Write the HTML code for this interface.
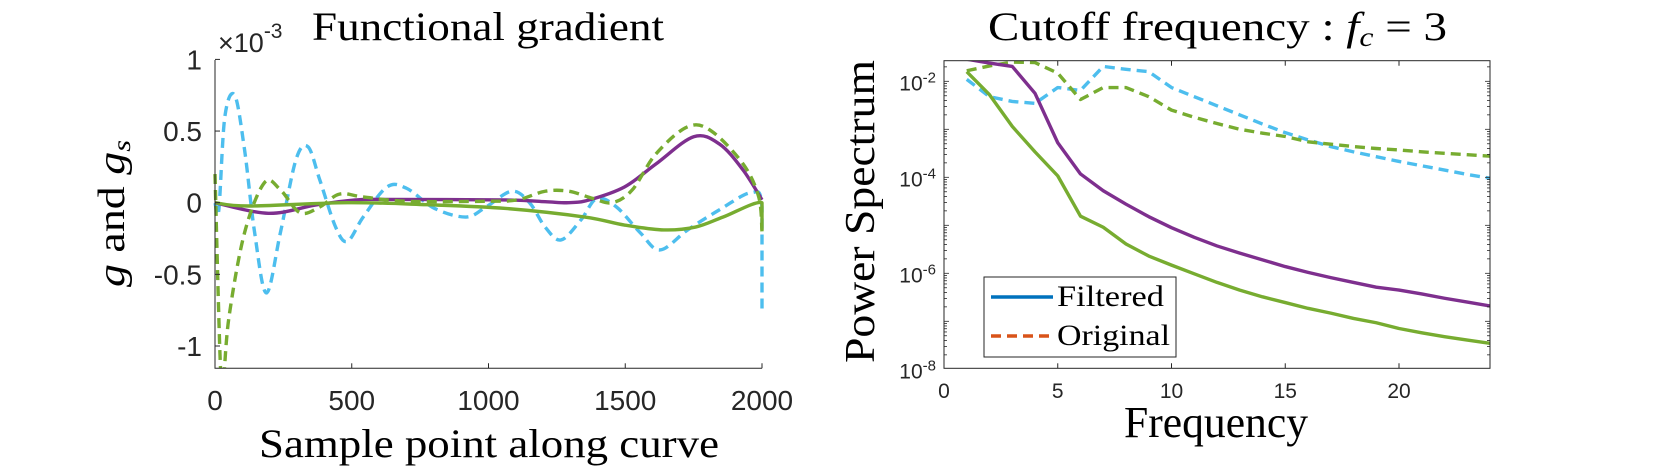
<!DOCTYPE html>
<html><head><meta charset="utf-8"><style>
html,body{margin:0;padding:0;background:#fff;}
svg{display:block;}
.tk{font-family:"Liberation Sans",sans-serif;fill:#262626;}
.sr{font-family:"Liberation Serif",serif;fill:#000;}
</style></head><body>
<svg id="fig" width="1654" height="472" viewBox="0 0 1654 472" xmlns="http://www.w3.org/2000/svg">
<g id="left"></g>
<g id="right"></g>
</svg>
<script>
// ---- Left chart data (values in units of 1e-3) ----
const gPurpleX = [0,195,369,513,629,1063,1207,1294,1367,1497,1612,1750,1844,1930,2000];
const gPurpleY = [0,-0.074,-0.016,0.019,0.023,0.019,0.007,0,0.019,0.11,0.27,0.46,0.41,0.23,0.02];
const gGreenX = [0,123,484,774,1063,1352,1497,1641,1757,1858,2000,2000];
const gGreenY = [0,-0.023,0,-0.014,-0.04,-0.1,-0.156,-0.19,-0.17,-0.1,0,-0.19];
const gsGreenX = [0,19,30,51,108,181,239,311,383,455,542,701,991,1106,1207,1294,1381,1453,1526,1612,1728,1815,1931,1988,2000];
const gsGreenY = [0.2,-1.1,-1.25,-0.8,-0.21,0.14,0.09,-0.07,-0.03,0.06,0.04,0.01,0.01,0.02,0.08,0.08,0.03,0,0.09,0.34,0.53,0.5,0.27,0.04,-0.2];
const gsCyanX = [0,14,36,72,108,145,188,239,296,340,383,441,484,542,629,701,803,918,991,1085,1150,1207,1265,1338,1396,1468,1555,1627,1728,1844,1960,2000,2000];
const gsCyanY = [0,-0.05,0.6,0.75,0.37,-0.21,-0.63,-0.21,0.3,0.39,0.16,-0.17,-0.27,-0.1,0.11,0.1,-0.04,-0.1,-0.03,0.08,0,-0.17,-0.26,-0.12,0.03,-0.03,-0.21,-0.33,-0.19,-0.05,0.07,-0.03,-0.77];
const leftXTicks = [0,500,1000,1500,2000];
const leftYTicks = [1,0.5,0,-0.5,-1];
const leftYTickLabels = ["1","0.5","0","-0.5","-1"];

// ---- Right chart data (log10 of power) ----
const freq = [1,2,3,4,5,6,7,8,9,10,11,12,13,14,15,16,17,18,19,20,21,22,23,24];
const filtPurple = [-1.54,-1.62,-1.69,-2.25,-3.28,-3.93,-4.28,-4.56,-4.82,-5.05,-5.25,-5.43,-5.58,-5.72,-5.86,-5.98,-6.09,-6.19,-6.29,-6.35,-6.43,-6.52,-6.60,-6.68];
const filtGreen = [-1.80,-2.28,-2.94,-3.47,-3.97,-4.81,-5.04,-5.39,-5.64,-5.83,-6.01,-6.19,-6.35,-6.49,-6.61,-6.73,-6.83,-6.94,-7.03,-7.15,-7.24,-7.32,-7.39,-7.46];
const origGreen = [-1.78,-1.68,-1.60,-1.61,-1.83,-2.38,-2.13,-2.13,-2.32,-2.60,-2.75,-2.88,-3.00,-3.08,-3.15,-3.26,-3.31,-3.36,-3.40,-3.43,-3.47,-3.50,-3.53,-3.56];
const origCyan = [-1.96,-2.32,-2.42,-2.46,-2.13,-2.19,-1.69,-1.75,-1.80,-2.13,-2.32,-2.51,-2.70,-2.89,-3.07,-3.22,-3.36,-3.47,-3.57,-3.67,-3.76,-3.85,-3.94,-4.02];
const rightXTicks = [0,5,10,15,20];
const rightYTicks = [-2,-4,-6,-8];

const NS="http://www.w3.org/2000/svg";
function mk(parent,tag,attrs,text){const e=document.createElementNS(NS,tag);for(const k in attrs)e.setAttribute(k,attrs[k]);if(text!==undefined)e.textContent=text;parent.appendChild(e);return e;}
function smoothPath(pts){
  if(pts.length<2)return "";
  let d="M"+pts[0][0].toFixed(2)+","+pts[0][1].toFixed(2);
  for(let i=0;i<pts.length-1;i++){
    const p0=pts[Math.max(0,i-1)],p1=pts[i],p2=pts[i+1],p3=pts[Math.min(pts.length-1,i+2)];
    if(p1[0]===p2[0]){d+=" L"+p2[0].toFixed(2)+","+p2[1].toFixed(2);continue;}
    const t=1/6;
    const c1=[p1[0]+(p2[0]-p0[0])*t,p1[1]+(p2[1]-p0[1])*t];
    const c2=[p2[0]-(p3[0]-p1[0])*t,p2[1]-(p3[1]-p1[1])*t];
    d+=" C"+c1[0].toFixed(2)+","+c1[1].toFixed(2)+" "+c2[0].toFixed(2)+","+c2[1].toFixed(2)+" "+p2[0].toFixed(2)+","+p2[1].toFixed(2);
  }
  return d;
}
const AX="#262626";
const PURPLE="#7E2F8E",GREEN="#77AC30",CYAN="#4DBEEE";

// ===== Left chart =====
(function(){
  const L=document.getElementById('left');
  const x0=215,x1=762,yTop=60,yBot=368.3;
  const sx=v=>x0+(v/2000)*(x1-x0);
  const sy=v=>202.7-v*143.3;
  const defs=mk(L,'defs',{});
  const cp=mk(defs,'clipPath',{id:'clipL'});
  mk(cp,'rect',{x:x0-4,y:yTop,width:x1-x0+8,height:yBot-yTop});
  const plot=mk(L,'g',{'clip-path':'url(#clipL)'});
  function series(xs,ys,color,dash,name){
    const pts=xs.map((x,i)=>[sx(x),sy(ys[i])]);
    const p=mk(plot,'path',{d:smoothPath(pts),fill:'none',stroke:color,'stroke-width':3.4,'stroke-dasharray':dash?'10,6':'none','stroke-linejoin':'round'});
    
    
  }
  series(gsCyanX,gsCyanY,CYAN,true,'gs-cyan-line');
  series(gPurpleX,gPurpleY,PURPLE,false,'g-purple-line');
  series(gGreenX,gGreenY,GREEN,false,'g-green-line');
  series(gsGreenX,gsGreenY,GREEN,true,'gs-green-line');
  const ax=mk(L,'path',{d:`M${x0},${yTop} L${x0},${yBot} L${x1},${yBot}`,fill:'none',stroke:AX,'stroke-width':1});
  
  
  leftXTicks.forEach(v=>{
    const x=sx(v);
    mk(L,'line',{x1:x,y1:yBot,x2:x,y2:yBot-5,stroke:AX,'stroke-width':1});
    const t=mk(L,'text',{x:x,y:410,'text-anchor':'middle','font-size':28,class:'tk'},String(v));
    
    
  });
  leftYTicks.forEach((v,i)=>{
    const y=sy(v);
    mk(L,'line',{x1:x0,y1:y,x2:x0+5,y2:y,stroke:AX,'stroke-width':1});
    const t=mk(L,'text',{x:x0-13,y:y+10,'text-anchor':'end','font-size':28,class:'tk'},leftYTickLabels[i]);
    
    
  });
})();

// ===== Right chart =====
(function(){
  const R=document.getElementById('right');
  const x0=944,x1=1490,yTop=60.7,yBot=368.3;
  const sx=v=>x0+v*22.75;
  const sy=l=>81.3-(l+2)*48;
  const defs=mk(R,'defs',{});
  const cp=mk(defs,'clipPath',{id:'clipR'});
  mk(cp,'rect',{x:x0,y:yTop,width:x1-x0,height:yBot-yTop});
  const plot=mk(R,'g',{'clip-path':'url(#clipR)'});
  function series(ys,color,dash,name){
    const pts=freq.map((f,i)=>[sx(f),sy(ys[i])]);
    const d="M"+pts.map(p=>p[0].toFixed(2)+","+p[1].toFixed(2)).join(" L");
    const p=mk(plot,'path',{d:d,fill:'none',stroke:color,'stroke-width':3.4,'stroke-dasharray':dash?'10,6':'none','stroke-linejoin':'round'});
    
    
  }
  series(origCyan,CYAN,true,'original-cyan-line');
  series(origGreen,GREEN,true,'original-green-line');
  series(filtPurple,PURPLE,false,'filtered-purple-line');
  series(filtGreen,GREEN,false,'filtered-green-line');
  const box=mk(R,'rect',{x:x0,y:yTop,width:x1-x0,height:yBot-yTop,fill:'none',stroke:AX,'stroke-width':1});
  
  
  rightXTicks.forEach(v=>{
    const x=sx(v);
    mk(R,'line',{x1:x,y1:yBot,x2:x,y2:yBot-5,stroke:AX,'stroke-width':1});
    mk(R,'line',{x1:x,y1:yTop,x2:x,y2:yTop+5,stroke:AX,'stroke-width':1});
    const t=mk(R,'text',{x:x,y:398,'text-anchor':'middle','font-size':21,class:'tk'},String(v));
    
    
  });
  for(let d=-8;d<-1;d++){
    for(let m=1;m<10;m++){
      const l=d+Math.log10(m);
      const y=sy(l);
      if(y<yTop||y>yBot)continue;
      const len=(m===1)?5:3;
      mk(R,'line',{x1:x0,y1:y,x2:x0+len,y2:y,stroke:AX,'stroke-width':0.8});
      mk(R,'line',{x1:x1,y1:y,x2:x1-len,y2:y,stroke:AX,'stroke-width':0.8});
    }
  }
  rightYTicks.forEach(v=>{
    const y=sy(v);
    const t=mk(R,'text',{x:936,y:y+9,'text-anchor':'end','font-size':21,class:'tk'});
    
    
    mk(t,'tspan',{},'10');
    mk(t,'tspan',{dy:-8,'font-size':15},String(v));
  });
})();
</script>
<svg width="1654" height="472" style="position:absolute;left:0;top:0" xmlns="http://www.w3.org/2000/svg">
  <text x="312" y="40" font-size="40" textLength="352" lengthAdjust="spacingAndGlyphs" class="sr">Functional gradient</text>
  <text x="218" y="52" font-size="27" class="tk">×10<tspan dy="-14" font-size="21">-3</tspan></text>
  <text x="259" y="457" font-size="40" textLength="460" lengthAdjust="spacingAndGlyphs" class="sr">Sample point along curve</text>
  <text transform="translate(124,287) rotate(-90)" font-size="38" textLength="147" lengthAdjust="spacingAndGlyphs" class="sr"><tspan font-style="italic">g</tspan> and <tspan font-style="italic">g</tspan><tspan font-style="italic" font-size="25" dy="6">s</tspan></text>
  <text x="988" y="40" font-size="40" textLength="459" lengthAdjust="spacingAndGlyphs" class="sr">Cutoff frequency : <tspan font-style="italic">f</tspan><tspan font-style="italic" font-size="27" dy="6">c</tspan><tspan dy="-6"> = 3</tspan></text>
  <text x="1124" y="437" font-size="44" textLength="184" lengthAdjust="spacingAndGlyphs" class="sr">Frequency</text>
  <text transform="translate(874,363) rotate(-90)" font-size="42" textLength="303" lengthAdjust="spacingAndGlyphs" class="sr">Power Spectrum</text>
  <g>
    <rect x="984" y="277" width="192" height="80" fill="#fff" stroke="#262626" stroke-width="1"/>
    <line x1="991" y1="297" x2="1053" y2="297" stroke="#0072BD" stroke-width="3.4"/>
    <text x="1057" y="306" font-size="30" textLength="107" lengthAdjust="spacingAndGlyphs" class="sr">Filtered</text>
    <line x1="991" y1="336" x2="1053" y2="336" stroke="#D95319" stroke-width="3.4" stroke-dasharray="10,6"/>
    <text x="1057" y="345" font-size="30" textLength="113" lengthAdjust="spacingAndGlyphs" class="sr">Original</text>
  </g>
</svg>
</body></html>
